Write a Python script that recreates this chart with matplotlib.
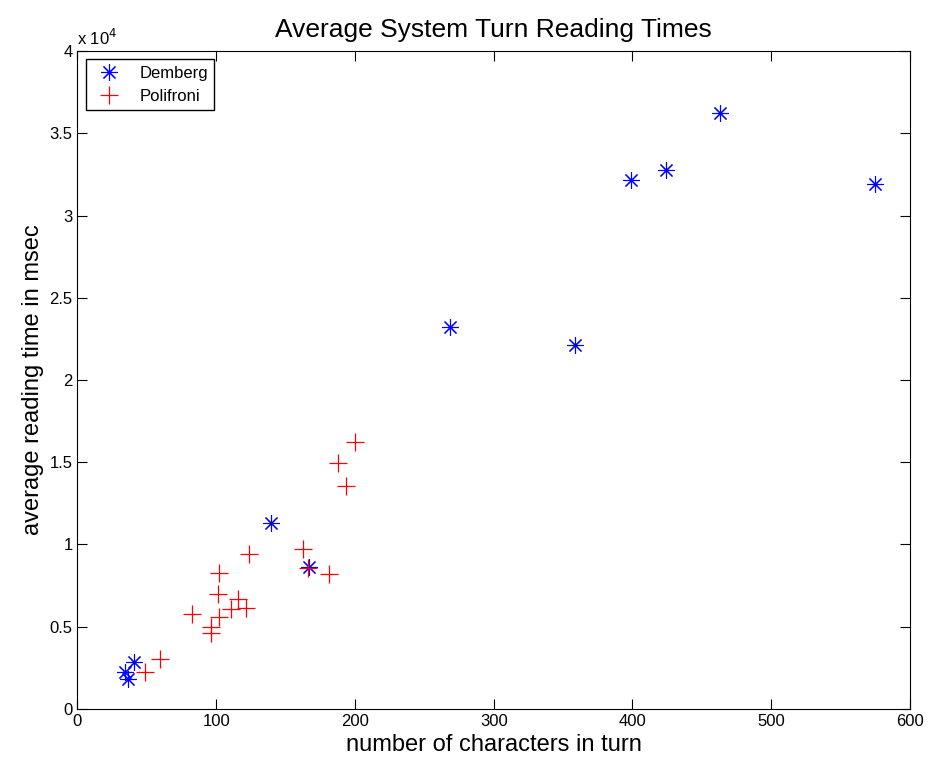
import matplotlib.pyplot as plt
import numpy as np

plt.rcParams["font.family"] = ["Liberation Sans", "DejaVu Sans"]

# Demberg system turns
demberg_chars = [463, 424, 399, 575, 268.5, 358.6, 139.4, 167, 40.6, 34.2, 36.4]
demberg_time = [36231, 32766, 32158, 31915, 23222, 22128, 11307, 8632, 2875, 2267, 1805]

# Polifroni system turns
polifroni_chars = [59.2, 48.4, 82.5, 96.4, 96.4, 102.2, 101.5, 102.2, 110.6, 115.5,
                   121.7, 123.6, 162.5, 166.3, 181.3, 199.8, 187.7, 193.7]
polifroni_time = [3040, 2268, 5795, 5005, 4638, 5612, 6991, 8248, 6061, 6706,
                  6160, 9443, 9706, 8553, 8207, 16250, 14954, 13576]

yticks = [0, 5000, 10000, 15000, 20000, 25000, 30000, 35000, 40000]
ytick_labels = ["0", "0.5", "1", "1.5", "2", "2.5", "3", "3.5", "4"]
xticks = [0, 100, 200, 300, 400, 500, 600]

fig = plt.figure(figsize=(9.3, 7.62), dpi=100)
ax = fig.add_axes([0.0833, 0.0696, 0.8952, 0.8634])

# MATLAB-style asterisk: 8 spokes
ax.plot(demberg_chars, demberg_time, linestyle="none", marker=(8, 2, 0), color="blue",
        markersize=12, markeredgewidth=0.8, label="Demberg")
ax.plot(polifroni_chars, polifroni_time, linestyle="none", marker="+", color="red",
        markersize=13, markeredgewidth=0.9, label="Polifroni")

ax.set_xlim(0, 600)
ax.set_ylim(0, 40000)
ax.set_xticks(xticks)
ax.set_yticks(yticks)
ax.set_yticklabels(ytick_labels)
ax.tick_params(direction="in", top=True, right=True, labelsize=12, length=7)
ax.text(0.0, 1.005, "x 10$^4$", transform=ax.transAxes, fontsize=12,
        ha="left", va="bottom")

ax.set_title("Average System Turn Reading Times", fontsize=19, pad=10)
ax.set_xlabel("number of characters in turn", fontsize=17)
ax.set_ylabel("average reading time in msec", fontsize=17)

leg = ax.legend(loc="upper left", fontsize=12, fancybox=False, edgecolor="black",
                framealpha=1, borderaxespad=0.5, handletextpad=0.8,
                labelspacing=0.45, borderpad=0.4)
leg.get_frame().set_linewidth(1.0)

fig.savefig("out.png", dpi=100)
